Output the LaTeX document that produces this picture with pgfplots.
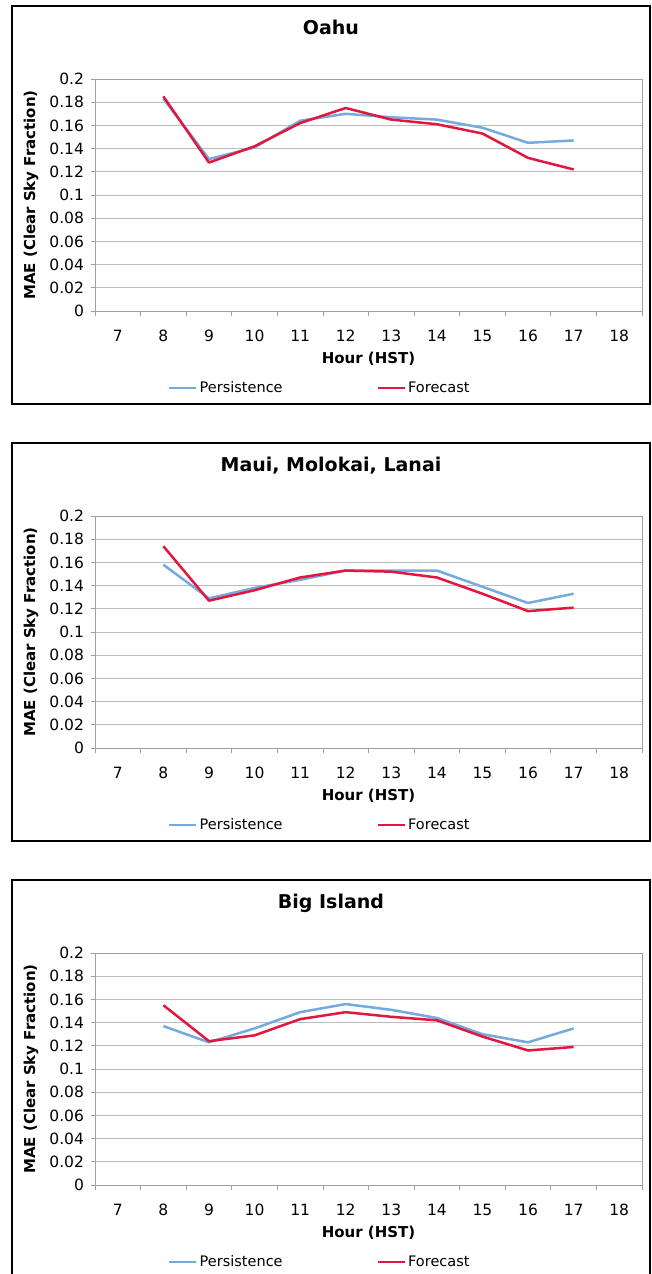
\documentclass[border=0pt]{standalone}
\usepackage{fontspec}
\setmainfont{DejaVu Sans}
\usepackage{pgfplots}
\usepackage{pgfplotstable}
\pgfplotsset{compat=1.18}
\definecolor{pers}{RGB}{116,170,224}
\definecolor{fore}{RGB}{226,22,62}
\definecolor{gridc}{RGB}{188,188,188}
\definecolor{axc}{RGB}{160,160,160}

\pgfplotstableread{
hour pers fore
8  0.183 0.185
9  0.131 0.128
10 0.141 0.142
11 0.164 0.162
12 0.170 0.175
13 0.167 0.165
14 0.165 0.161
15 0.158 0.153
16 0.145 0.132
17 0.147 0.122
}\oahu

\pgfplotstableread{
hour pers fore
8  0.158 0.174
9  0.129 0.127
10 0.138 0.136
11 0.145 0.147
12 0.153 0.153
13 0.153 0.152
14 0.153 0.147
15 0.139 0.133
16 0.125 0.118
17 0.133 0.121
}\maui

\pgfplotstableread{
hour pers fore
8  0.137 0.155
9  0.123 0.124
10 0.135 0.129
11 0.149 0.143
12 0.156 0.149
13 0.151 0.145
14 0.144 0.142
15 0.130 0.128
16 0.123 0.116
17 0.135 0.119
}\bigisland

\pgfplotsset{
  panel/.style={
    scale only axis, width=547pt, height=232pt,
    xmin=6.5, xmax=18.5, ymin=0, ymax=0.2,
    xtick={7,8,9,10,11,12,13,14,15,16,17,18},
    minor xtick={6.5,7.5,8.5,9.5,10.5,11.5,12.5,13.5,14.5,15.5,16.5,17.5,18.5},
    ytick={0,0.02,0.04,0.06,0.08,0.1,0.12,0.14,0.16,0.18,0.2},
    scaled y ticks=false,
    yticklabel style={/pgf/number format/fixed, /pgf/number format/precision=2, xshift=-3.5pt},
    /pgf/number format/assume math mode=true,
    tick align=outside, major tick length=4pt, minor tick length=5pt,
    xtick pos=bottom, ytick pos=left,
    major x tick style={draw=none},
    minor x tick style={axc, line width=0.8pt},
    ytick style={axc, line width=0.8pt},
    ymajorgrids, grid style={gridc, line width=0.8pt},
    axis line style={axc, line width=0.8pt},
    ticklabel style={font=\fontsize{15.5}{18}\selectfont},
    xticklabel style={anchor=base, yshift=-26pt},
    xlabel={Hour (HST)},
    ylabel={MAE (Clear Sky Fraction)},
    every axis x label/.style={at={(axis description cs:0.5,0)}, anchor=base, yshift=-52.5pt, font=\fontsize{15}{18}\selectfont\bfseries},
    every axis y label/.style={at={(axis description cs:-0.117,0.5)}, rotate=90, anchor=center, font=\fontsize{15}{18}\selectfont\bfseries},
    title style={at={(axis description cs:0.4314,1.168)}, anchor=base, font=\fontsize{19}{22}\selectfont\bfseries},
    legend columns=2,
    legend style={draw=none, fill=none, inner xsep=0pt, inner ysep=0pt,
      at={(axis description cs:0.1335,-0.332)}, anchor=west,
      font=\fontsize{14.5}{17}\selectfont,
      /tikz/every even column/.append style={column sep=92pt}},
    legend image code/.code={\draw[##1] (0pt,0pt) -- (27pt,0pt);},
  },
  pline/.style={pers, line width=2.5pt, line join=round},
  fline/.style={fore, line width=2.5pt, line join=round},
}

\begin{document}
\begin{tikzpicture}
\useasboundingbox (0pt,0pt) rectangle (652pt,-1274pt);
\clip (0pt,0pt) rectangle (652pt,-1274pt);
\fill[white] (0pt,0pt) rectangle (652pt,-1274pt);

\draw[black, line width=1.2pt] (12pt,-6pt) rectangle (650pt,-404pt);
\draw[black, line width=1.2pt] (12pt,-443pt) rectangle (650pt,-841pt);
\draw[black, line width=1.2pt] (12pt,-880pt) rectangle (650pt,-1290pt);

\begin{axis}[panel, at={(95pt,-311pt)}, anchor=south west, title={Oahu}]
\addplot[pline] table[x=hour, y=pers] {\oahu};
\addlegendentry{Persistence}
\addplot[fline] table[x=hour, y=fore] {\oahu};
\addlegendentry{Forecast}
\end{axis}

\begin{axis}[panel, at={(95pt,-748pt)}, anchor=south west, title={Maui, Molokai, Lanai}]
\addplot[pline] table[x=hour, y=pers] {\maui};
\addlegendentry{Persistence}
\addplot[fline] table[x=hour, y=fore] {\maui};
\addlegendentry{Forecast}
\end{axis}

\begin{axis}[panel, at={(95pt,-1185pt)}, anchor=south west, title={Big Island}]
\addplot[pline] table[x=hour, y=pers] {\bigisland};
\addlegendentry{Persistence}
\addplot[fline] table[x=hour, y=fore] {\bigisland};
\addlegendentry{Forecast}
\end{axis}
\end{tikzpicture}
\end{document}
